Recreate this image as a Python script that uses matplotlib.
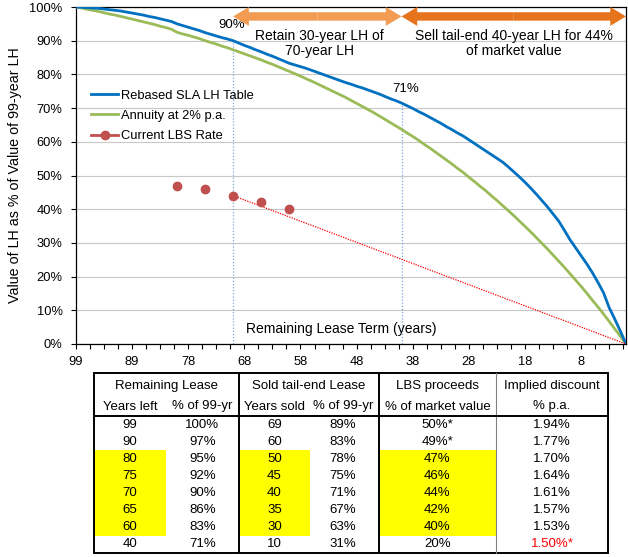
import matplotlib
matplotlib.use("Agg")
import matplotlib.pyplot as plt
from matplotlib.lines import Line2D
from matplotlib.patches import FancyArrow, Rectangle
from matplotlib.ticker import MultipleLocator, FixedLocator, FuncFormatter

plt.rcParams['font.family'] = ['Liberation Sans', 'DejaVu Sans']

# ---------------- data ----------------
# category axis of the original chart (remaining lease years; 81 is absent)
years = [99, 98, 97, 96, 95, 94, 93, 92, 91, 90, 89, 88, 87, 86, 85, 84, 83, 82,
         80, 79, 78, 77, 76, 75, 74, 73, 72, 71, 70, 69, 68, 67, 66, 65, 64, 63,
         62, 61, 60, 59, 58, 57, 56, 55, 54, 53, 52, 51, 50, 49, 48, 47, 46, 45,
         44, 43, 42, 41, 40, 39, 38, 37, 36, 35, 34, 33, 32, 31, 30, 29, 28, 27,
         26, 25, 24, 23, 22, 21, 20, 19, 18, 17, 16, 15, 14, 13, 12, 11, 10, 9,
         8, 7, 6, 5, 4, 3, 2, 1, 0]

sla_rebased = [100.0, 99.9, 99.8, 99.7, 99.6, 99.4, 99.2, 99.0, 98.8, 98.5, 98.2,
               97.9, 97.6, 97.2, 96.9, 96.5, 96.1, 95.7,
               95.0, 94.5, 94.0, 93.5, 93.0, 92.4, 91.9, 91.4, 90.9, 90.5, 90.0,
               89.3, 88.6, 88.0, 87.3, 86.7, 86.0, 85.4, 84.7, 84.0, 83.3, 82.8,
               82.3, 81.8, 81.2, 80.6, 80.0, 79.4, 78.8, 78.2, 77.6, 77.1, 76.5,
               76.0, 75.4, 74.8, 74.2, 73.5, 72.8, 72.2, 71.5, 70.7, 69.9, 69.0,
               68.2, 67.3, 66.4, 65.5, 64.5, 63.6, 62.6, 61.7, 60.6, 59.5, 58.4,
               57.3, 56.2, 55.1, 54.0, 52.6, 51.1, 49.6, 48.0, 46.3, 44.5, 42.6,
               40.7, 38.6, 36.5, 33.8, 31.0, 28.6, 26.2, 23.8, 21.2, 18.3, 15.2,
               10.8, 7.4, 3.8, 0.0]

annuity_2pct = [100.0, 99.7, 99.3, 99.0, 98.7, 98.3, 97.9, 97.6, 97.2, 96.8, 96.4,
                96.0, 95.6, 95.2, 94.8, 94.3, 93.9, 93.4,
                92.5, 92.0, 91.6, 91.1, 90.6, 90.0, 89.5, 89.0, 88.4, 87.9, 87.3,
                86.7, 86.1, 85.5, 84.9, 84.3, 83.6, 83.0, 82.3, 81.6, 80.9, 80.2,
                79.5, 78.7, 78.0, 77.2, 76.4, 75.6, 74.8, 74.0, 73.2, 72.3, 71.4,
                70.5, 69.6, 68.7, 67.7, 66.7, 65.7, 64.7, 63.7, 62.6, 61.6, 60.5,
                59.3, 58.2, 57.0, 55.8, 54.6, 53.4, 52.1, 50.9, 49.5, 48.2, 46.8,
                45.5, 44.0, 42.6, 41.1, 39.6, 38.1, 36.5, 34.9, 33.3, 31.6, 29.9,
                28.2, 26.4, 24.6, 22.8, 20.9, 19.0, 17.1, 15.1, 13.0, 11.0, 8.9,
                6.7, 4.5, 2.3, 0.0]

lbs_years = [80, 75, 70, 65, 60]
lbs_rate = [47, 46, 44, 42, 40]

retain_from, sell_from = 70, 40
x_tick_every = 10

# table
tab_years_left = [99, 90, 80, 75, 70, 65, 60, 40]
tab_pct_left = [100, 97, 95, 92, 90, 86, 83, 71]
tab_years_sold = [69, 60, 50, 45, 40, 35, 30, 10]
tab_pct_sold = [89, 83, 78, 75, 71, 67, 63, 31]
tab_lbs = ["50%*", "49%*", "47%", "46%", "44%", "42%", "40%", "20%"]
tab_disc = ["1.94%", "1.77%", "1.70%", "1.64%", "1.61%", "1.57%", "1.53%", "1.50%*"]
tab_highlight = [False, False, True, True, True, True, True, False]

# ---------------- figure ----------------
W, H = 628, 557
fig = plt.figure(figsize=(W / 100, H / 100), dpi=100)
L, R, T, B = 76, 626, 7, 344
ax = fig.add_axes([L / W, 1 - B / H, (R - L) / W, (B - T) / H])

xpos = list(range(len(years)))
blue = '#0070C0'
green = '#9BBB59'
red = '#C0504D'

ax.plot(xpos, sla_rebased, color=blue, lw=2.0, zorder=4, solid_joinstyle='round')
ax.plot(xpos, annuity_2pct, color=green, lw=2.0, zorder=3, solid_joinstyle='round')

lx = [years.index(y) for y in lbs_years]
ax.plot(lx, lbs_rate, 'o', color=red, ms=6, zorder=5)

i_ret = years.index(retain_from)
i_sell = years.index(sell_from)
i_end = years.index(0)
ax.plot([i_ret, i_end], [lbs_rate[lbs_years.index(retain_from)], 0],
        color='#FF0000', lw=0.9, ls=(0, (1, 1)), zorder=4)
ax.vlines([i_ret, i_sell], 0, [sla_rebased[i_ret], sla_rebased[i_sell]],
          color='#7EA6DC', lw=0.9, linestyles=(0, (1, 1.5)), zorder=2)

ax.set_xlim(0, len(years) - 1)
ax.set_ylim(0, 100)
ax.yaxis.set_major_locator(MultipleLocator(10))
ax.yaxis.set_major_formatter(FuncFormatter(lambda v, p: f"{v:.0f}%"))
major = list(range(0, len(years), x_tick_every))
ax.xaxis.set_major_locator(FixedLocator(major))
ax.set_xticklabels([str(years[i]) for i in major])
ax.xaxis.set_minor_locator(MultipleLocator(2.5))
ax.grid(axis='y', color='#C8C8C8', lw=0.8, zorder=0)
ax.set_axisbelow(True)
for s in ax.spines.values():
    s.set_color('black')
    s.set_linewidth(0.9)
ax.tick_params(axis='x', which='both', direction='out', length=3.6, width=0.8,
               labelsize=9.3, pad=5)
ax.tick_params(axis='y', direction='out', length=3.6, width=0.8, labelsize=9.3, pad=6)

fig.text(15 / W, 1 - 175.5 / H, "Value of LH as % of Value of 99-year LH",
         rotation=90, ha='center', va='center', fontsize=10.3)

ax.text((341 - L) / (R - L), (B - 329) / (B - T), "Remaining Lease Term (years)",
        transform=ax.transAxes, ha='center', va='center', fontsize=10)

ax.annotate("90%", (i_ret, sla_rebased[i_ret]), xytext=(-1, 7), textcoords='offset points',
            ha='center', va='bottom', fontsize=9.5)
ax.annotate("71%", (i_sell, sla_rebased[i_sell]), xytext=(3, 5.5), textcoords='offset points',
            ha='center', va='bottom', fontsize=9.5)

# double arrows
def double_arrow(x0, x1, y, color):
    mid = (x0 + x1) / 2
    for dx in (x0 - mid, x1 - mid):
        ax.add_patch(FancyArrow(mid, y, dx, 0, width=2.5, head_width=5.6, head_length=2.8,
                                length_includes_head=True, color=color, lw=0,
                                clip_on=False, zorder=6))

double_arrow(i_ret, i_sell, 97.2, '#F29B52')
double_arrow(i_sell, i_end, 97.2, '#E6741D')
ax.text((i_ret + i_sell) / 2 + 0.3, 89.2, "Retain 30-year LH of\n70-year LH",
        ha='center', va='center', fontsize=10, linespacing=1.15, zorder=6)
ax.text((i_sell + i_end) / 2 + 0.0, 89.2, "Sell tail-end 40-year LH for 44%\nof market value",
        ha='center', va='center', fontsize=10, linespacing=1.15, zorder=6)

handles = [Line2D([], [], color=blue, lw=2.0),
           Line2D([], [], color=green, lw=2.0),
           Line2D([], [], color=red, lw=2.0, marker='o', ms=6)]
ax.legend(handles, ["Rebased SLA LH Table", "Annuity at 2% p.a.", "Current LBS Rate"],
          loc='center left', bbox_to_anchor=((91 - L) / (R - L), (B - 116) / (B - T)),
          frameon=False, fontsize=9.3, handlelength=2.1, handletextpad=0.25,
          labelspacing=0.62, borderpad=0, borderaxespad=0)

# ---------------- table ----------------
tb = fig.add_axes([0, 0, 1, 1])
tb.set_xlim(0, W)
tb.set_ylim(H, 0)
tb.axis('off')

tl, tr, tt, tbm = 93.5, 607.5, 373, 553
hdr = 416
rh = (tbm - hdr) / len(tab_years_left)
sep1, sep2, sep3 = 238.6, 379, 496
sub1, sub2 = 166, 309.5
col_c = [130, 202.5, 274.5, 343, 437.5, 552]
fs = 9.5

for i, hl in enumerate(tab_highlight):
    if hl:
        y0 = hdr + i * rh
        for a, b in [(tl, sub1), (sep1, sub2), (sep2, sep3)]:
            tb.add_patch(Rectangle((a, y0), b - a, rh, color='#FFFF00', lw=0, zorder=1))

tb.plot([tl, tr, tr, tl, tl], [tt, tt, tbm, tbm, tt], color='black', lw=1.4, zorder=3,
        solid_joinstyle='miter')
tb.plot([sep1, sep1], [tt, tbm], color='black', lw=1.4, zorder=3)
tb.plot([sep2, sep2], [tt, tbm], color='black', lw=1.4, zorder=3)
tb.plot([sep3, sep3], [tt, tbm], color='#808080', lw=0.8, zorder=3)
tb.plot([tl, tr], [hdr, hdr], color='black', lw=1.4, zorder=3)

groups = ["Remaining Lease", "Sold tail-end Lease", "LBS proceeds", "Implied discount"]
group_c = [(tl + sep1) / 2, (sep1 + sep2) / 2, (sep2 + sep3) / 2, (sep3 + tr) / 2]
for g, c in zip(groups, group_c):
    tb.text(c, 386, g, ha='center', va='center', fontsize=fs, zorder=4)
subs = ["Years left", "% of 99-yr", "Years sold", "% of 99-yr", "% of market value", "% p.a."]
for s, c in zip(subs, col_c):
    tb.text(c, 406.5, s, ha='center', va='center', fontsize=fs, zorder=4)

for i in range(len(tab_years_left)):
    yc = hdr + (i + 0.5) * rh
    vals = [str(tab_years_left[i]), f"{tab_pct_left[i]}%", str(tab_years_sold[i]),
            f"{tab_pct_sold[i]}%", tab_lbs[i], tab_disc[i]]
    for j, (v, c) in enumerate(zip(vals, col_c)):
        color = '#FF0000' if (j == 5 and v.endswith('*')) else 'black'
        tb.text(c, yc, v, ha='center', va='center', fontsize=fs, color=color, zorder=4)

fig.savefig("out.png", dpi=100)
